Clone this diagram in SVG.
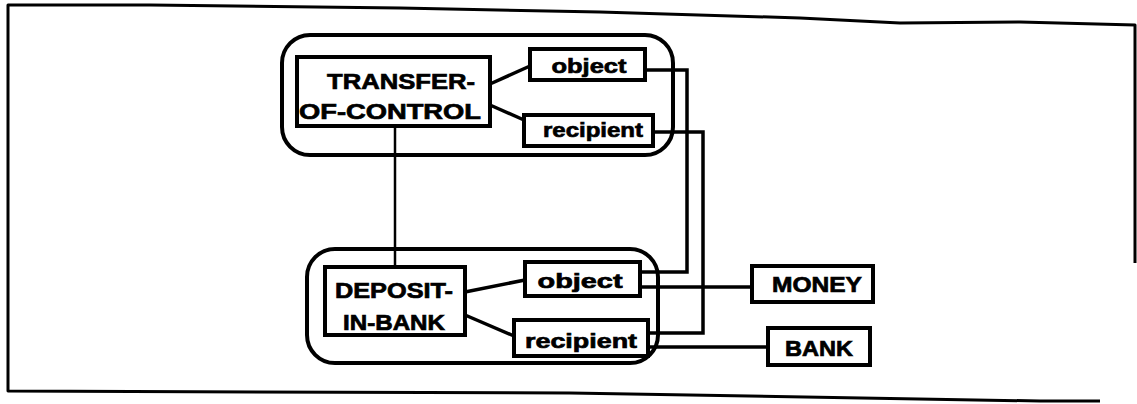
<svg xmlns="http://www.w3.org/2000/svg" width="1137" height="404" viewBox="0 0 1137 404">
<style>
.frame{fill:none;stroke:#000;stroke-width:3;stroke-linejoin:round}
.grp{fill:none;stroke:#000;stroke-width:4}
.box{fill:#fff;stroke:#000;stroke-width:4}
.lbl{font-family:"Liberation Sans",Arial,sans-serif;font-weight:bold;font-size:21px;fill:#000;stroke:#000;stroke-width:0.7;text-anchor:middle}
.big{font-size:22px}
.c{fill:none;stroke:#000;stroke-width:3.5;stroke-linejoin:miter}
.thin{fill:none;stroke:#000;stroke-width:2.5}
</style>
<rect width="1137" height="404" fill="#fff"/>
<g id="frame">
<polyline class="frame" points="1135,263 1135,25 1020,22 900,23 800,18 600,12 400,8 150,5 8,5 8,391 570,393 1040,401 1100,401"/>
</g>
<g id="groups">
<rect id="transfer-group" class="grp" x="282" y="35" width="391" height="120" rx="28"/>
<rect id="deposit-group" class="grp" x="307" y="249" width="351" height="114" rx="28"/>
</g>
<g id="connectors">
<line class="c" x1="490" y1="84" x2="530" y2="66"/>
<line class="c" x1="490" y1="105" x2="524" y2="120"/>
<line class="thin" x1="395" y1="126" x2="395" y2="267"/>
<polyline class="c" points="645,70 687,70 687,272 640,272"/>
<polyline class="c" points="653,132 703,132 703,333 648,333"/>
<line class="c" x1="640" y1="287" x2="752" y2="287"/>
<line class="c" x1="648" y1="347" x2="768" y2="347"/>
<line class="c" x1="465" y1="292" x2="525" y2="280"/>
<line class="c" x1="465" y1="315" x2="514" y2="336"/>
</g>
<g id="transfer-of-control">
<rect class="box" x="297" y="57" width="193" height="69"/>
<text class="lbl big" x="401" y="89" textLength="148" lengthAdjust="spacingAndGlyphs">TRANSFER-</text>
<text class="lbl big" x="390" y="119" textLength="182" lengthAdjust="spacingAndGlyphs">OF-CONTROL</text>
</g>
<g id="toc-object">
<rect class="box" x="530" y="49" width="115" height="31"/>
<text class="lbl" x="589" y="73" textLength="75" lengthAdjust="spacingAndGlyphs">object</text>
</g>
<g id="toc-recipient">
<rect class="box" x="524" y="115" width="129" height="31"/>
<text class="lbl" x="593" y="137" textLength="100" lengthAdjust="spacingAndGlyphs">recipient</text>
</g>
<g id="deposit-in-bank">
<rect class="box" x="325" y="267" width="140" height="68"/>
<text class="lbl big" x="394" y="298" textLength="118" lengthAdjust="spacingAndGlyphs">DEPOSIT-</text>
<text class="lbl big" x="394" y="330" textLength="102" lengthAdjust="spacingAndGlyphs">IN-BANK</text>
</g>
<g id="dib-object">
<rect class="box" x="525" y="262" width="115" height="34"/>
<text class="lbl" x="580" y="288" textLength="85" lengthAdjust="spacingAndGlyphs">object</text>
</g>
<g id="dib-recipient">
<rect class="box" x="514" y="320" width="134" height="36"/>
<text class="lbl" x="581" y="348" textLength="112" lengthAdjust="spacingAndGlyphs">recipient</text>
</g>
<g id="money">
<rect class="box" x="752" y="266" width="121" height="36"/>
<text class="lbl big" x="817" y="292" textLength="90" lengthAdjust="spacingAndGlyphs">MONEY</text>
</g>
<g id="bank">
<rect class="box" x="768" y="328" width="102" height="37"/>
<text class="lbl big" x="819" y="356" textLength="68" lengthAdjust="spacingAndGlyphs">BANK</text>
</g>
</svg>
